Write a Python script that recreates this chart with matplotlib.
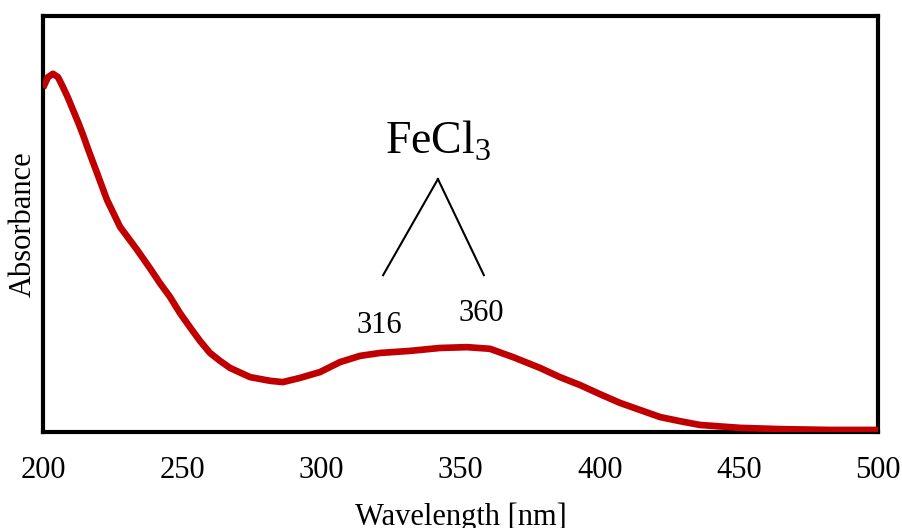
import numpy as np
import matplotlib
matplotlib.use('Agg')
from matplotlib import pyplot as plt

plt.rcParams['font.family'] = ['Liberation Serif', 'DejaVu Serif']
plt.rcParams['mathtext.fontset'] = 'custom'
plt.rcParams['mathtext.rm'] = 'Liberation Serif'

# UV-Vis spectrum of FeCl3
wavelength = [200.0, 201.8, 203.6, 205.4, 207.2, 209.0, 210.8, 212.6, 214.4, 216.2,
              219.4, 223.0, 227.7, 233.8, 238.4, 242.0, 245.6, 249.2, 252.8, 256.4,
              260.0, 263.6, 267.2, 274.4, 281.6, 286.2, 292.3, 299.5, 306.7, 313.9,
              321.1, 331.9, 342.6, 352.3, 360.6, 368.9, 378.6, 385.7, 392.9, 400.1,
              407.3, 414.5, 421.7, 428.9, 436.0, 450.4, 464.8, 482.8, 500.0]
absorbance = [0.827, 0.853, 0.861, 0.853, 0.829, 0.803, 0.774, 0.745, 0.714, 0.680,
              0.623, 0.558, 0.493, 0.438, 0.394, 0.358, 0.325, 0.286, 0.252, 0.219,
              0.190, 0.171, 0.154, 0.132, 0.123, 0.120, 0.130, 0.144, 0.168, 0.183,
              0.190, 0.195, 0.202, 0.204, 0.200, 0.180, 0.154, 0.132, 0.113, 0.091,
              0.070, 0.053, 0.036, 0.026, 0.017, 0.010, 0.007, 0.005, 0.005]

xticks = [200, 250, 300, 350, 400, 450, 500]
peaks = [316, 360]

fig = plt.figure(figsize=(9.03, 5.28), dpi=100)
ax = fig.add_axes([0.0476, 0.1818, 0.9247, 0.7879])

ax.plot(wavelength, absorbance, color='#C00000', linewidth=4.8,
        solid_capstyle='butt', solid_joinstyle='round', zorder=3)

ax.set_xlim(200, 500)
ax.set_ylim(0, 1)
ax.set_xticks(xticks)
ax.set_yticks([])
ax.tick_params(axis='x', length=0, pad=17, labelsize=22)

for s in ax.spines.values():
    s.set_linewidth(3)

ax.set_xlabel('Wavelength [nm]', fontsize=22, labelpad=13)
ax.set_ylabel('Absorbance', fontsize=22, labelpad=4)

# peak annotation
ax.text(342.0, 0.70, 'FeCl$_3$', fontsize=33, ha='center', va='center')
ax.plot([322.2, 341.9], [0.377, 0.608], color='black', linewidth=1.5)
ax.plot([341.9, 358.4], [0.608, 0.377], color='black', linewidth=1.5)
ax.text(321, 0.257, str(peaks[0]), fontsize=22, ha='center', va='center')
ax.text(357.4, 0.286, str(peaks[1]), fontsize=22, ha='center', va='center')

plt.savefig('out.png', dpi=100)
